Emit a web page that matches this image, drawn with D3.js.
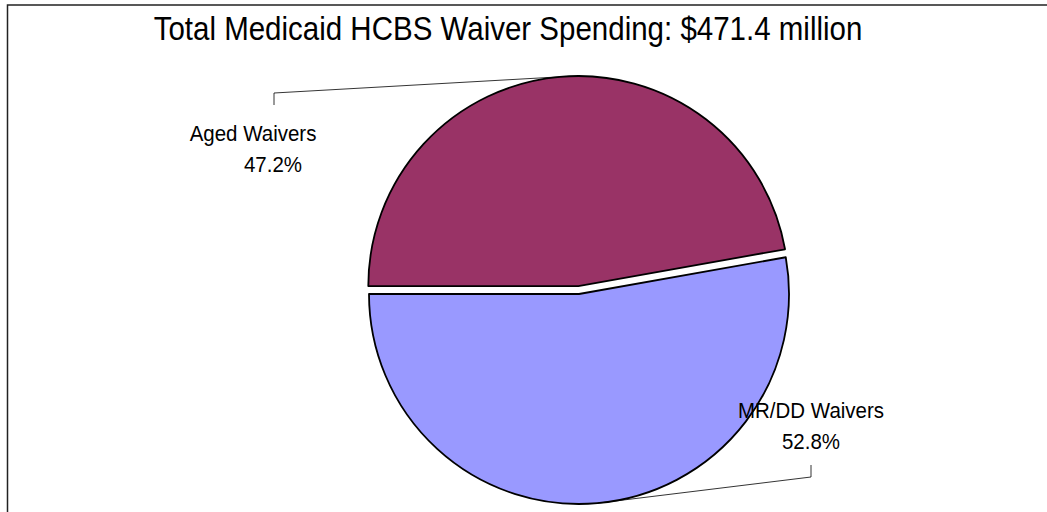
<!DOCTYPE html>
<html>
<head>
<meta charset="utf-8">
<script src="https://cdn.jsdelivr.net/npm/d3@7"></script>
<style>
  body { margin: 0; background: #fff; }
  text { font-family: "Liberation Sans", Arial, sans-serif; fill: #000; }
</style>
</head>
<body>
<div id="chart"></div>
<script>
// data
var categories = ["Aged Waivers", "MR/DD Waivers"];
var shares = [47.2, 52.8];
var titleText = "Total Medicaid HCBS Waiver Spending: $471.4 million";

var colors = ["#993366", "#9999FF"];
var width = 1047, height = 512;

var svg = d3.select("#chart").append("svg")
    .attr("width", width)
    .attr("height", height);

// outer frame (cropped on the right and bottom)
svg.append("rect")
    .attr("x", 7.5).attr("y", 5)
    .attr("width", width + 20).attr("height", height + 20)
    .attr("fill", "none")
    .attr("stroke", "#222")
    .attr("stroke-width", 1.5);

// text is drawn a bit taller than wide, like the original
var stretch = 1.12;

svg.append("text")
    .attr("transform", "translate(508,40) scale(1," + stretch + ")")
    .attr("text-anchor", "middle")
    .style("font-size", "29.5px")
    .text(titleText);

// pie layout, Aged slice starts at 9 o'clock
var cx = 579, cy = 294, r = 210, explode = 8;
var startA = -Math.PI / 2;
var pie = d3.pie().sort(null)
    .startAngle(startA).endAngle(startA + 2 * Math.PI)
    .value(function(d) { return d; });
var arc = d3.arc().innerRadius(0).outerRadius(r);
var arcs = pie(shares);

var g = svg.append("g").attr("transform", "translate(" + cx + "," + cy + ")");

// Aged slice is pulled out a little
function offset(d, i) {
    if (i !== 0) return [0, 0];
    var m = (d.startAngle + d.endAngle) / 2;
    return [explode * Math.sin(m), -explode * Math.cos(m)];
}

g.selectAll("path.slice")
    .data(arcs)
    .enter().append("path")
    .attr("class", "slice")
    .attr("d", arc)
    .attr("transform", function(d, i) { var o = offset(d, i); return "translate(" + o[0] + "," + o[1] + ")"; })
    .attr("fill", function(d, i) { return colors[i]; })
    .attr("stroke", "#000")
    .attr("stroke-width", 1.8)
    .attr("stroke-linejoin", "round");

// label positions (relative to the page) and leader elbows
var labelPos = [
    {x: 253, y: 141, x2: 273, elbowX: 274, elbowTop: 105, elbowY: 93},
    {x: 811, y: 418, x2: 811, elbowX: 811, elbowTop: 465, elbowY: 477}
];

var labels = svg.selectAll("g.lab")
    .data(arcs)
    .enter().append("g")
    .attr("class", "lab");

labels.append("text")
    .attr("transform", function(d, i) { return "translate(" + labelPos[i].x + "," + labelPos[i].y + ") scale(1," + stretch + ")"; })
    .attr("text-anchor", "middle")
    .style("font-size", "20.5px")
    .text(function(d, i) { return categories[i]; });

labels.append("text")
    .attr("transform", function(d, i) { return "translate(" + labelPos[i].x2 + "," + (labelPos[i].y + 31) + ") scale(1," + stretch + ")"; })
    .attr("text-anchor", "middle")
    .style("font-size", "20.5px")
    .text(function(d) { return d.value.toFixed(1) + "%"; });

// leader lines to the middle of each slice's rim
labels.append("path")
    .attr("fill", "none")
    .attr("stroke", "#000")
    .attr("stroke-width", 0.8)
    .attr("d", function(d, i) {
        var o = offset(d, i);
        var m = (d.startAngle + d.endAngle) / 2;
        var px = cx + o[0] + r * Math.sin(m);
        var py = cy + o[1] - r * Math.cos(m);
        var p = labelPos[i];
        return "M" + p.elbowX + "," + p.elbowTop + "L" + p.elbowX + "," + p.elbowY + "L" + px + "," + py;
    });
</script>
</body>
</html>
